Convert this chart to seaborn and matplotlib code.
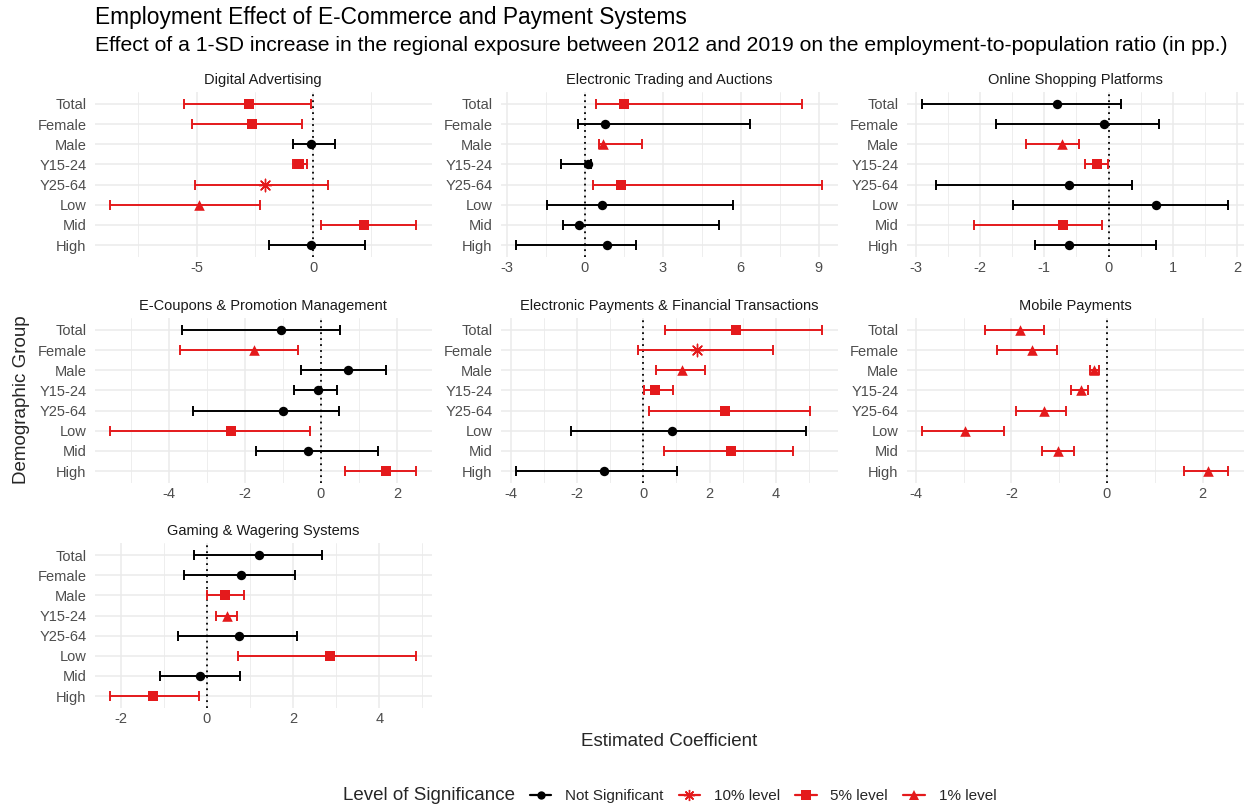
import matplotlib
matplotlib.use("Agg")
import matplotlib.pyplot as plt
from matplotlib.lines import Line2D
import numpy as np
import pandas as pd
import seaborn as sns

# ---------------------------------------------------------------- data
groups = ["Total", "Female", "Male", "Y15-24", "Y25-64", "Low", "Mid", "High"]

sectors = [
    "Digital Advertising",
    "Electronic Trading and Auctions",
    "Online Shopping Platforms",
    "E-Coupons & Promotion Management",
    "Electronic Payments & Financial Transactions",
    "Mobile Payments",
    "Gaming & Wagering Systems",
]

# point estimates, lower / upper confidence bounds, significance code per group
adv_est = [-2.74, -2.60, -0.10, -0.61, -2.07, -4.89, 2.19, -0.07]
adv_lo = [-5.54, -5.19, -0.86, -0.86, -5.07, -8.71, 0.33, -1.91]
adv_hi = [-0.10, -0.49, 0.94, -0.26, 0.64, -2.26, 4.43, 2.23]
adv_sig = ["5", "5", "ns", "5", "10", "1", "5", "ns"]

trd_est = [1.49, 0.79, 0.69, 0.13, 1.38, 0.67, -0.22, 0.85]
trd_lo = [0.41, -0.28, 0.54, -0.90, 0.33, -1.46, -0.86, -2.65]
trd_hi = [8.37, 6.35, 2.18, 0.23, 9.14, 5.71, 5.17, 1.95]
trd_sig = ["5", "ns", "1", "ns", "5", "ns", "ns", "ns"]

shp_est = [-0.80, -0.07, -0.72, -0.18, -0.62, 0.74, -0.71, -0.61]
shp_lo = [-2.90, -1.75, -1.29, -0.37, -2.69, -1.48, -2.10, -1.15]
shp_hi = [0.19, 0.78, -0.46, -0.01, 0.36, 1.86, -0.10, 0.73]
shp_sig = ["ns", "ns", "1", "5", "ns", "ns", "5", "ns"]

cpn_est = [-1.06, -1.76, 0.71, -0.07, -1.00, -2.37, -0.33, 1.72]
cpn_lo = [-3.66, -3.70, -0.52, -0.71, -3.35, -5.54, -1.71, 0.63]
cpn_hi = [0.50, -0.60, 1.72, 0.43, 0.48, -0.29, 1.50, 2.51]
cpn_sig = ["ns", "1", "ns", "ns", "ns", "5", "ns", "5"]

pay_est = [2.79, 1.61, 1.18, 0.36, 2.46, 0.85, 2.63, -1.19]
pay_lo = [0.65, -0.15, 0.39, 0.01, 0.16, -2.18, 0.61, -3.84]
pay_hi = [5.40, 3.92, 1.87, 0.90, 5.04, 4.92, 4.50, 1.02]
pay_sig = ["5", "10", "1", "5", "5", "ns", "5", "ns"]

mob_est = [-1.83, -1.57, -0.28, -0.54, -1.31, -2.98, -1.02, 2.11]
mob_lo = [-2.56, -2.30, -0.36, -0.75, -1.90, -3.87, -1.35, 1.62]
mob_hi = [-1.32, -1.05, -0.17, -0.40, -0.86, -2.15, -0.70, 2.54]
mob_sig = ["1", "1", "1", "1", "1", "1", "1", "1"]

gam_est = [1.20, 0.79, 0.43, 0.46, 0.74, 2.85, -0.16, -1.25]
gam_lo = [-0.31, -0.53, 0.01, 0.22, -0.67, 0.72, -1.10, -2.25]
gam_hi = [2.67, 2.05, 0.85, 0.70, 2.10, 4.86, 0.77, -0.18]
gam_sig = ["ns", "ns", "5", "1", "ns", "5", "ns", "5"]

# axis breaks per panel (major labelled, minor grid only)
major_ticks = [
    [-5, 0],
    [-3, 0, 3, 6, 9],
    [-3, -2, -1, 0, 1, 2],
    [-4, -2, 0, 2],
    [-4, -2, 0, 2, 4],
    [-4, -2, 0, 2],
    [-2, 0, 2, 4],
]
minor_ticks = [
    [-7.5, -2.5, 2.5],
    [-1.5, 1.5, 4.5, 7.5],
    [-2.5, -1.5, -0.5, 0.5, 1.5],
    [-5, -3, -1, 1],
    [-3, -1, 1, 3, 5],
    [-3, -1, 1],
    [-1, 1, 3, 5],
]

sig_codes = ["ns", "10", "5", "1"]
sig_labels = ["Not Significant", "10% level", "5% level", "1% level"]

# ---------------------------------------------------------------- frame
panel_arrays = [
    (adv_est, adv_lo, adv_hi, adv_sig),
    (trd_est, trd_lo, trd_hi, trd_sig),
    (shp_est, shp_lo, shp_hi, shp_sig),
    (cpn_est, cpn_lo, cpn_hi, cpn_sig),
    (pay_est, pay_lo, pay_hi, pay_sig),
    (mob_est, mob_lo, mob_hi, mob_sig),
    (gam_est, gam_lo, gam_hi, gam_sig),
]
rows = []
for sector, (est, lo, hi, sig) in zip(sectors, panel_arrays):
    for i, g in enumerate(groups):
        rows.append(dict(sector=sector, group=g, pos=i, est=est[i],
                         lo=lo[i], hi=hi[i], sig=sig[i]))
df = pd.DataFrame(rows)

# ---------------------------------------------------------------- style
sns.set_theme(style="white")
plt.rcParams["font.family"] = ["Liberation Sans", "DejaVu Sans"]
plt.rcParams["axes.unicode_minus"] = False

RED = "#E41A1C"
BLACK = "#000000"
sig_color = {"ns": BLACK, "10": RED, "5": RED, "1": RED}
sig_marker = {"ns": "o", "10": (8, 2, 0), "5": "s", "1": "^"}
sig_size = {"ns": 46, "10": 80, "5": 44, "1": 58}
GRID = "#EBEBEB"
TICK_C = "#4D4D4D"

W, H = 1247, 807
fig = plt.figure(figsize=(W / 100, H / 100), dpi=100)
fig.patch.set_facecolor("white")

col_left = [94.7, 500.7, 906.7]
row_top = [91.9, 317.9, 543.0]
pw, ph = 337.0, 165.2

for k, sector in enumerate(sectors):
    r, c = divmod(k, 3)
    ax = fig.add_axes([col_left[c] / W, 1 - (row_top[r] + ph) / H, pw / W, ph / H])
    sub = df[df.sector == sector]

    xmin, xmax = sub.lo.min(), sub.hi.max()
    pad = 0.05 * (xmax - xmin)
    ax.set_xlim(xmin - pad, xmax + pad)
    ax.set_ylim(len(groups) - 0.4, -0.6)

    # grid
    for t in minor_ticks[k]:
        ax.axvline(t, color=GRID, lw=0.6, zorder=0)
    for t in major_ticks[k]:
        ax.axvline(t, color=GRID, lw=1.1, zorder=0)
    for i in range(len(groups)):
        ax.axhline(i, color=GRID, lw=1.1, zorder=0)

    ax.axvline(0, color=BLACK, lw=1.3, ls=(0, (1, 2.3)), zorder=1)

    for code in sig_codes:
        s = sub[sub.sig == code]
        if s.empty:
            continue
        col = sig_color[code]
        ax.errorbar(s.est, s.pos, xerr=[s.est - s.lo, s.hi - s.est], fmt="none",
                    ecolor=col, elinewidth=1.4, capsize=3.8, capthick=1.4, zorder=2)
        if code == "10":
            sns.scatterplot(data=s, x="est", y="pos", marker=sig_marker[code],
                            color=col, s=sig_size[code], linewidth=1.0,
                            ax=ax, legend=False, zorder=3)
        else:
            sns.scatterplot(data=s, x="est", y="pos", marker=sig_marker[code],
                            color=col, s=sig_size[code], linewidth=0,
                            ax=ax, legend=False, zorder=3)

    ax.set_xticks(major_ticks[k])
    ax.set_xticklabels([str(t) for t in major_ticks[k]])
    ax.set_yticks(range(len(groups)))
    ax.set_yticklabels(groups)
    ax.tick_params(axis="both", length=0, labelsize=10.5, labelcolor=TICK_C)
    ax.tick_params(axis="y", pad=6)
    ax.tick_params(axis="x", pad=3)
    ax.set_xlabel("")
    ax.set_ylabel("")
    for sp in ax.spines.values():
        sp.set_visible(False)
    ax.set_facecolor("white")
    ax.set_title(sector, fontsize=10.5, color="#1A1A1A", pad=6)

# titles
fig.text(95 / W, 1 - 24 / H, "Employment Effect of E-Commerce and Payment Systems",
         fontsize=16.4, color="black", ha="left", va="baseline")
fig.text(95 / W, 1 - 51 / H,
         "Effect of a 1-SD increase in the regional exposure between 2012 and 2019 "
         "on the employment-to-population ratio (in pp.)",
         fontsize=15.2, color="black", ha="left", va="baseline")
fig.text(669 / W, 1 - 742 / H, "Estimated Coefficient", fontsize=13.5,
         ha="center", va="center")
fig.text(22 / W, 1 - 400 / H, "Demographic Group", fontsize=13.5,
         ha="center", va="center", rotation=90)

# legend
fig.text(343 / W, 1 - 796 / H, "Level of Significance", fontsize=13.5,
         ha="left", va="center")
handles = []
for code, lab in zip(sig_codes, sig_labels):
    mk = sig_marker[code]
    handles.append(Line2D([0], [0], color=sig_color[code], lw=1.6, marker=mk,
                          markersize=8 if code == "10" else (6.5 if code != "ns" else 6),
                          markeredgewidth=1.0 if code == "10" else 0,
                          label=lab))
fig.legend(handles=handles, loc="center left", bbox_to_anchor=(530 / W, 1 - 796 / H),
           ncol=4, frameon=False, fontsize=11, handlelength=1.4, handletextpad=0.9,
           columnspacing=1.0, borderpad=0, borderaxespad=0)

fig.savefig("out.png", dpi=100, facecolor="white")
